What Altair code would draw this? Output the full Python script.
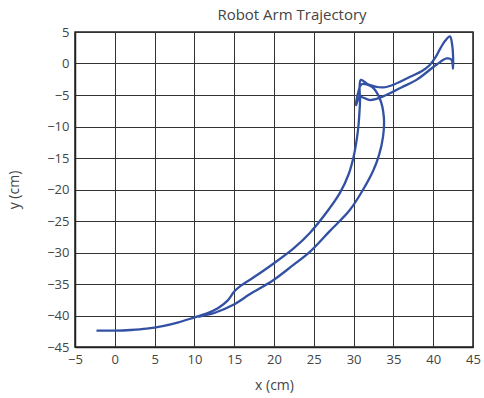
import altair as alt
import pandas as pd

# Recorded end-effector path (cm), in the order it was travelled
x_cm = [-2.3, 0, 2, 4, 6, 8, 10, 11.5, 13, 14.2, 15, 15.8, 17.5, 20, 22.5, 24.5,
        26.8, 28.3, 29.4, 30.0, 30.4, 30.6, 30.8, 30.9,
        31.8, 33.7, 35.5, 37.1, 38.6, 39.6, 40.3, 40.9, 41.5, 42.1, 42.4, 42.5, 42.5,
        42.3, 41.7, 40.4, 37.9, 36.0, 34.1, 32.1, 30.8, 30.3,
        30.6, 31.0, 32.3, 33.3, 33.8, 33.7, 33.2, 32.5, 31.2, 29.5, 27.0, 24.5,
        22.4, 19.9, 17.0, 14.9, 12.5, 10.5]
y_cm = [-42.4, -42.4, -42.3, -42.1, -41.7, -41.1, -40.3, -39.7, -38.8, -37.6, -36.2,
        -35.3, -33.9, -31.7, -29.3, -26.9,
        -23.3, -20.5, -17.5, -14.8, -12.0, -10.0, -6.3, -2.6,
        -3.3, -3.8, -3.1, -2.1, -1.2, -0.2, 1.0, 2.4, 3.6, 4.3, 2.8, 1.0, -0.8,
        0.6, 0.8, -0.2, -2.6, -3.8, -5.0, -5.8, -5.3, -6.6,
        -4.5, -3.3, -3.7, -5.6, -8.5, -11.6, -14.5, -16.9, -20.0, -23.3, -26.6, -29.9,
        -32.0, -34.4, -36.6, -38.3, -39.6, -40.2]

df = pd.DataFrame({"x": x_cm, "y": y_cm, "step": range(len(x_cm))})

font = "Open Sans"
yticks = list(range(-45, 10, 5))
xticks = list(range(-5, 50, 5))

chart = alt.Chart(df).mark_line(
    color="#3251a3", strokeWidth=2.3, interpolate="catmull-rom"
).encode(
    x=alt.X("x:Q", scale=alt.Scale(domain=[-5, 45], nice=False),
            axis=alt.Axis(values=xticks, title="x (cm)")),
    y=alt.Y("y:Q", scale=alt.Scale(domain=[-45, 5], nice=False),
            axis=alt.Axis(values=yticks, title="y (cm)")),
    order="step:Q",
).properties(
    width=398, height=315,
    title=alt.TitleParams("Robot Arm Trajectory", font=font, fontSize=15,
                          fontWeight="normal", color="#444444", dx=18, offset=3),
    autosize=alt.AutoSizeParams(type="none"),
    padding={"left": 75, "top": 32, "right": 11, "bottom": 51},
).configure_view(
    stroke="#222222", strokeWidth=1.5
).configure_axis(
    grid=True, gridColor="#333333", gridWidth=1, gridOpacity=1,
    domain=True, domainColor="#222222", domainWidth=1.5,
    ticks=False, labelFlush=False,
    labelFont=font, labelFontSize=13, labelColor="#444444",
    titleFont=font, titleFontSize=14, titleFontWeight="normal", titleColor="#444444",
    labelPadding=6,
).configure_axisX(
    titlePadding=12
).configure_axisY(
    titlePadding=25
)

chart.save("out.html", embed_options={"renderer": "svg", "actions": False})
